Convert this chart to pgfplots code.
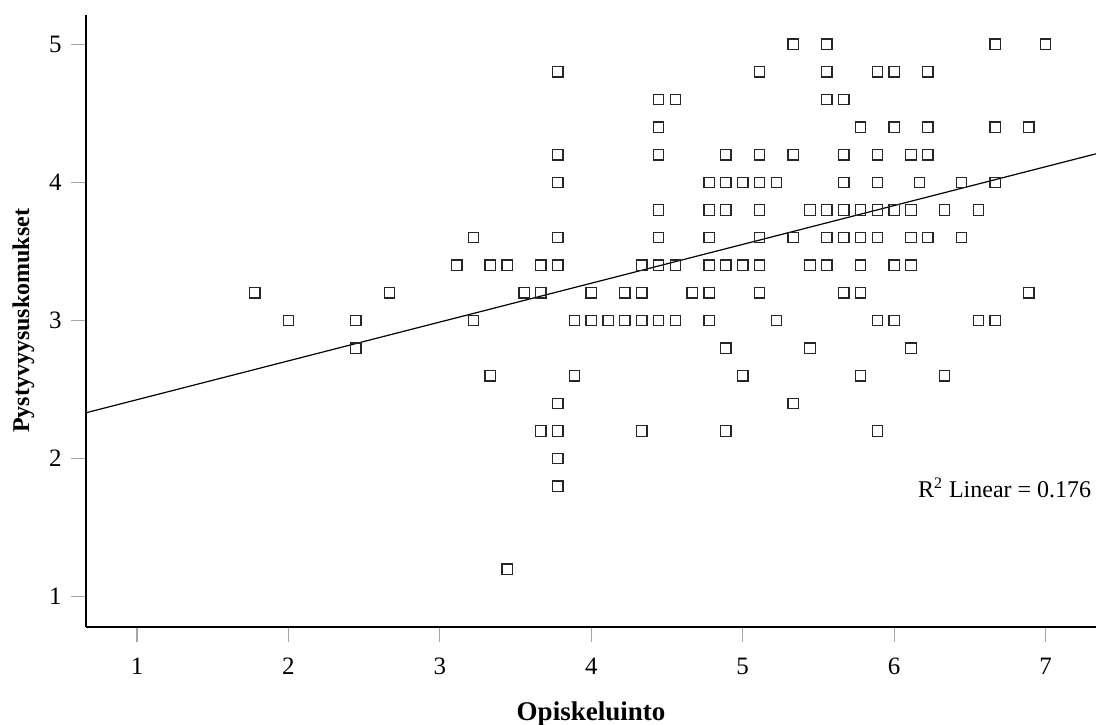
\documentclass[border=0pt]{standalone}
\usepackage{pgfplots}
\usepackage{pgfplotstable}
\pgfplotsset{compat=1.18}
\usepackage{fontspec}
\setmainfont{Liberation Serif}

\pgfplotstableread{
x y
5.333 5.0
5.556 5.0
6.667 5.0
7.000 5.0
3.778 4.8
5.111 4.8
5.556 4.8
5.889 4.8
6.000 4.8
6.222 4.8
4.444 4.6
4.556 4.6
5.556 4.6
5.667 4.6
4.444 4.4
5.778 4.4
6.000 4.4
6.222 4.4
6.667 4.4
6.889 4.4
3.778 4.2
4.444 4.2
4.889 4.2
5.111 4.2
5.333 4.2
5.667 4.2
5.889 4.2
6.111 4.2
6.222 4.2
3.778 4.0
4.778 4.0
4.889 4.0
5.000 4.0
5.111 4.0
5.222 4.0
5.667 4.0
5.889 4.0
6.167 4.0
6.444 4.0
6.667 4.0
4.444 3.8
4.778 3.8
4.889 3.8
5.111 3.8
5.444 3.8
5.556 3.8
5.667 3.8
5.778 3.8
5.889 3.8
6.000 3.8
6.111 3.8
6.333 3.8
6.556 3.8
3.222 3.6
3.778 3.6
4.444 3.6
4.778 3.6
5.111 3.6
5.333 3.6
5.556 3.6
5.667 3.6
5.778 3.6
5.889 3.6
6.111 3.6
6.222 3.6
6.444 3.6
3.111 3.4
3.333 3.4
3.444 3.4
3.667 3.4
3.778 3.4
4.333 3.4
4.444 3.4
4.556 3.4
4.778 3.4
4.889 3.4
5.000 3.4
5.111 3.4
5.444 3.4
5.556 3.4
5.778 3.4
6.000 3.4
6.111 3.4
1.778 3.2
2.667 3.2
3.556 3.2
3.667 3.2
4.000 3.2
4.222 3.2
4.333 3.2
4.667 3.2
4.778 3.2
5.111 3.2
5.667 3.2
5.778 3.2
6.889 3.2
2.000 3.0
2.444 3.0
3.222 3.0
3.889 3.0
4.000 3.0
4.111 3.0
4.222 3.0
4.333 3.0
4.444 3.0
4.556 3.0
4.778 3.0
5.222 3.0
5.889 3.0
6.000 3.0
6.556 3.0
6.667 3.0
2.444 2.8
4.889 2.8
5.444 2.8
6.111 2.8
3.333 2.6
3.889 2.6
5.000 2.6
5.778 2.6
6.333 2.6
3.778 2.4
5.333 2.4
3.667 2.2
3.778 2.2
4.333 2.2
4.889 2.2
5.889 2.2
3.778 2.0
3.778 1.8
3.444 1.2
}\scatterdata

\begin{document}
\begin{tikzpicture}
\path[use as bounding box] (-43pt,-48.65pt) rectangle (505pt,313.35pt);
\begin{axis}[
  scale only axis,
  width=505pt, height=305.85pt,
  xmin=0.663, xmax=7.333,
  ymin=0.783, ymax=5.212,
  axis x line*=bottom, axis y line*=left,
  axis line style={-, line width=1pt, black},
  xtick={1,2,3,4,5,6,7},
  ytick={1,2,3,4,5},
  tick align=outside,
  x tick style={black!35, line width=0.6pt},
  y tick style={black!35, line width=0.6pt},
  major tick length=7.5pt,
  /pgf/number format/assume math mode=true,
  ticklabel style={font=\fontsize{12.5}{14}\selectfont, inner sep=0pt},
  xticklabel style={yshift=-8pt},
  yticklabel style={xshift=-4.5pt},
  xlabel={\textbf{Opiskeluinto}},
  ylabel={\textbf{Pystyvyysuskomukset}},
  x label style={at={(axis description cs:0.5,0)}, anchor=north, yshift=-37.5pt, inner sep=0pt, font=\fontsize{13.5}{15}\selectfont},
  y label style={at={(axis description cs:-0.0733,0.5)}, anchor=north, inner sep=0pt, font=\fontsize{12}{14}\selectfont},
  clip=false,
]
\addplot[only marks, mark=square, mark size=2.6pt, mark options={line width=0.65pt, draw=black!85}] table[x=x, y=y] {\scatterdata};
\addplot[black, line width=0.6pt] coordinates {(0.663,2.332) (7.333,4.207)};
\node[anchor=base east, inner sep=0pt, font=\fontsize{12}{14}\selectfont] at (axis cs:7.304,1.722) {R\textsuperscript{2} Linear = 0.176};
\end{axis}
\end{tikzpicture}
\end{document}
